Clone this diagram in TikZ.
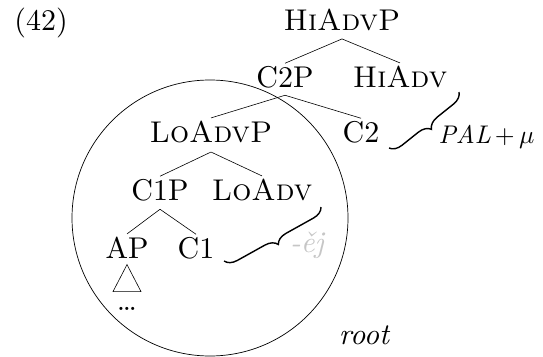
\RequirePackage{fix-cm}
\documentclass[tikz,border=0pt]{standalone}
\usepackage{fontspec}
\usetikzlibrary{decorations.pathreplacing}
\begin{document}
\begin{tikzpicture}[x=1pt,y=-1pt,
  lab/.style={inner sep=0pt, anchor=base, font=\fontsize{10}{12}\selectfont, scale=3, transform shape},
  small/.style={inner sep=0pt, font=\fontsize{10}{12}\selectfont, scale=2.55, transform shape},
  edge/.style={line width=0.6pt},
  brc/.style={decorate, decoration={brace, amplitude=12pt}, line width=1.4pt}]
\useasboundingbox (0,0) rectangle (543,356);
% domain circle
\node[draw, circle, line width=0.7pt, minimum size=276pt, inner sep=0pt] (domain) at (210,218) {};
% labels
\node[lab] (ex) at (41,30) {(42)};
\node[lab] (hiadvp) at (342,30) {\textsc{HiAdvP}};
\node[lab] (c2p) at (285,87) {C2P};
\node[lab] (hiadv) at (400,87) {\textsc{HiAdv}};
\node[lab] (loadvp) at (211,142) {\textsc{LoAdvP}};
\node[lab] (c2) at (361,142) {C2};
\node[lab] (c1p) at (160,200) {C1P};
\node[lab] (loadv) at (262,200) {\textsc{LoAdv}};
\node[lab] (ap) at (127,258) {AP};
\node[lab] (c1) at (196,258) {C1};
\node[lab] (dots) at (127,310) {\dots};
\node[lab, font=\fontsize{10}{12}\selectfont\itshape] (root) at (364,344) {root};
\node[small, anchor=base west] (pal) at (438,143) {$\mathit{PAL}\,{+}\,\mu$};
\node[lab, text=gray!45, font=\fontsize{10}{12}\selectfont\itshape] (ej) at (307,252) {-ěj};
% tree edges
\draw[edge] ([yshift=-8pt]hiadvp.south) -- ([yshift=2pt]c2p.north);
\draw[edge] ([yshift=-8pt]hiadvp.south) -- ([yshift=2pt]hiadv.north);
\draw[edge] ([yshift=-7pt]c2p.south) -- ([yshift=2pt]loadvp.north);
\draw[edge] ([yshift=-7pt]c2p.south) -- ([yshift=2pt]c2.north);
\draw[edge] ([yshift=-9pt]loadvp.south) -- ([yshift=2pt]c1p.north);
\draw[edge] ([yshift=-9pt]loadvp.south) -- ([yshift=2pt]loadv.north);
\draw[edge] ([yshift=-8pt]c1p.south) -- ([yshift=2pt]ap.north);
\draw[edge] ([yshift=-8pt]c1p.south) -- ([yshift=2pt]c1.north);
% triangle under AP
\draw[edge] ([yshift=-6pt]ap.south) -- ++(-14,27) -- ++(28,0) -- cycle;
% braces
\coordinate (b1a) at (459,92);
\coordinate (b1b) at (389,148);
\draw[brc] (b1a) -- (b1b);
\coordinate (b2a) at (321,207);
\coordinate (b2b) at (224,261);
\draw[brc] (b2a) -- (b2b);
\end{tikzpicture}
\end{document}
